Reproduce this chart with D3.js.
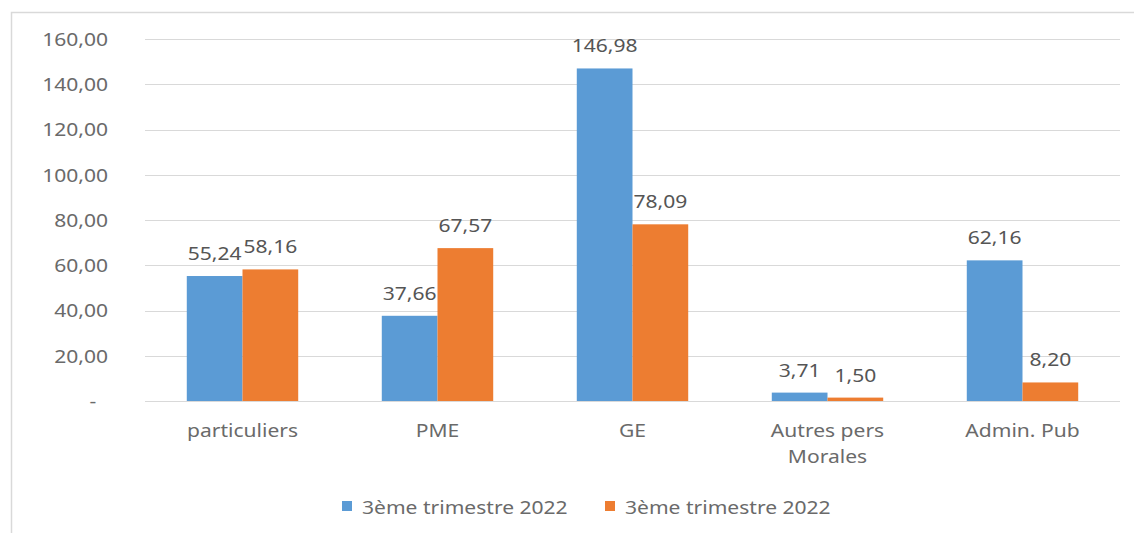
<!DOCTYPE html>
<html><head><meta charset="utf-8">
<script src="https://cdn.jsdelivr.net/npm/d3@7/dist/d3.min.js"></script>
<style>body{margin:0;background:#fff}svg{display:block}</style>
</head><body>
<svg id="c" width="1134" height="533"></svg>
<script>
const categories = ["particuliers", "PME", "GE", "Autres pers|Morales", "Admin. Pub"];
const seriesNames = ["3ème trimestre 2022", "3ème trimestre 2022"];
const seriesA = [55.24, 37.66, 146.98, 3.71, 62.16];
const seriesB = [58.16, 67.57, 78.09, 1.50, 8.20];
const yTicks = [0, 20, 40, 60, 80, 100, 120, 140, 160];
const colors = ["#5B9BD5", "#ED7D31"];

const font = "'Noto Sans', 'Open Sans', sans-serif";
const SX = 1.17;
const FS = 18;
const fmt = v => v === 0 ? "-" : v.toFixed(2).replace(".", ",");
const svg = d3.select("#c");

function txt(parent, x, y, s, anchor, color) {
  return parent.append("text").attr("transform", `translate(${x},${y}) scale(${SX},1)`)
    .attr("text-anchor", anchor).attr("font-family", font).attr("font-size", FS)
    .attr("fill", color).text(s);
}

svg.append("rect").attr("x", 11.5).attr("y", 12.5).attr("width", 1140).attr("height", 540)
  .attr("fill", "none").attr("stroke", "#d9d9d9").attr("stroke-width", 1.5);

const x0 = d3.scaleBand().domain(categories).range([145, 1120]).paddingInner(0).paddingOuter(0);
const y = d3.scaleLinear().domain([0, 160]).range([401, 39]);
const bw = x0.bandwidth() / 3.5;

// gridlines
svg.append("g").selectAll("line").data(yTicks).join("line")
  .attr("x1", 145).attr("x2", 1120)
  .attr("y1", d => Math.round(y(d)) + 0.5).attr("y2", d => Math.round(y(d)) + 0.5)
  .attr("stroke", "#d9d9d9").attr("stroke-width", 1.2);

// y axis labels
const yAxis = d3.axisLeft(y).tickValues(yTicks).tickFormat(fmt).tickSize(0).tickPadding(0);
const gy = svg.append("g").attr("transform", "translate(108,0)").call(yAxis);
gy.select(".domain").remove();
gy.selectAll("text").attr("font-family", font).attr("font-size", FS).attr("fill", "#6a6a6a")
  .attr("x", 0).attr("dy", "0.36em").attr("transform", `scale(${SX},1)`);
gy.selectAll(".tick").filter(d => d === 0).select("text").attr("x", -10);

// bars
const series = [seriesA, seriesB];
series.forEach((s, si) => {
  const g = svg.append("g");
  g.selectAll("rect").data(s).join("rect")
    .attr("x", (d, i) => x0(categories[i]) + x0.bandwidth() / 2 - bw + si * bw)
    .attr("width", bw)
    .attr("y", d => y(d))
    .attr("height", d => y(0) - y(d))
    .attr("fill", colors[si]);
  s.forEach((d, i) => {
    txt(g, x0(categories[i]) + x0.bandwidth() / 2 - bw + si * bw + bw / 2, y(d) - 16, fmt(d), "middle", "#555555");
  });
});

// x axis labels
const gx = svg.append("g");
categories.forEach(c => {
  c.split("|").forEach((l, i) => txt(gx, x0(c) + x0.bandwidth() / 2, 437 + i * 26, l, "middle", "#6a6a6a"));
});

// legend
const leg = svg.append("g");
const legX = [342, 605];
seriesNames.forEach((n, i) => {
  leg.append("rect").attr("x", legX[i]).attr("y", 501).attr("width", 10).attr("height", 10).attr("fill", colors[i]);
  txt(leg, legX[i] + 20, 514, n, "start", "#6a6a6a");
});
</script>
</body></html>
